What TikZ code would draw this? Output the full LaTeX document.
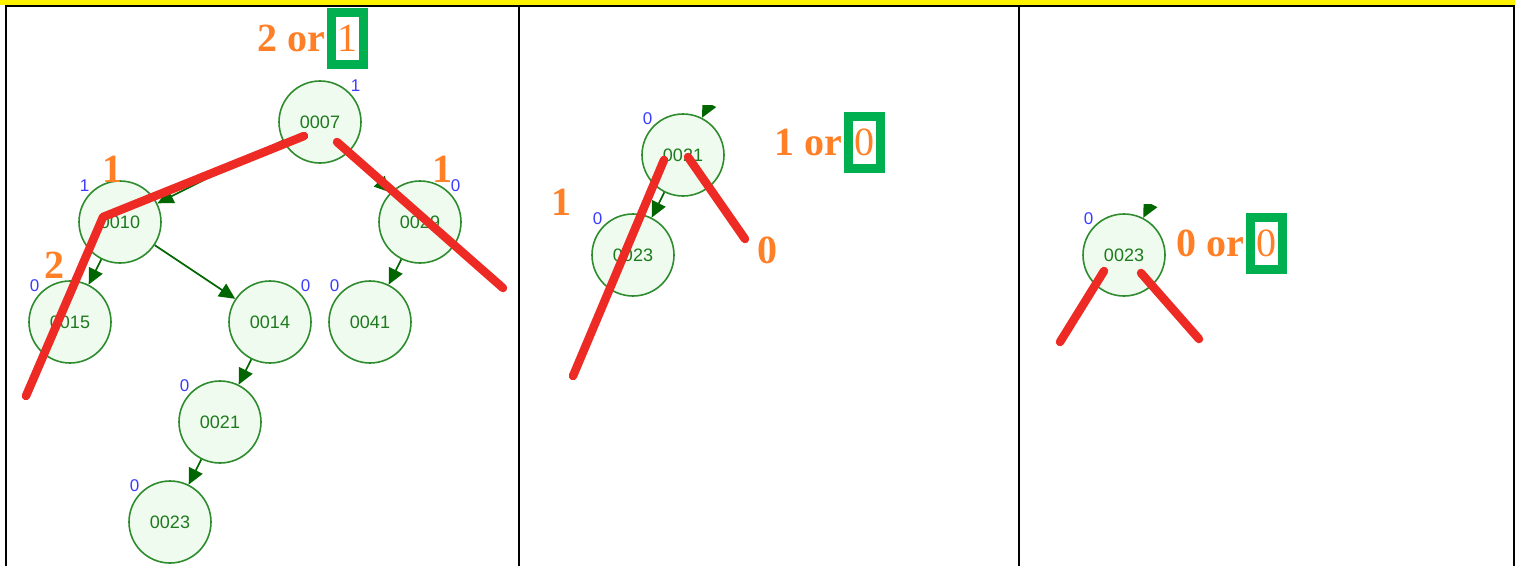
\documentclass[tikz,border=0pt]{standalone}
\usepackage{fontspec}
\setmainfont{Liberation Serif}
\newfontfamily\nodefont{Liberation Sans}
\usepackage{tikz}
\usetikzlibrary{arrows.meta}
\definecolor{nodefill}{HTML}{EEFBEE}
\definecolor{nodeline}{HTML}{2E8B2E}
\definecolor{nodetext}{HTML}{1E7A1E}
\definecolor{arrowgreen}{HTML}{006600}
\definecolor{cutred}{HTML}{EE2A24}
\definecolor{scoreorange}{HTML}{FF7F27}
\definecolor{pickgreen}{HTML}{00B050}
\definecolor{balblue}{HTML}{3C3CFF}

\begin{document}
\begin{tikzpicture}[x=1pt, y=-1pt,
    treenode/.style={circle, draw=nodeline, fill=nodefill, line width=1.6pt,
        minimum size=82pt, inner sep=0pt, text=nodetext,
        font=\nodefont\fontsize{18}{18}\selectfont, label distance=8pt},
    edge/.style={draw=arrowgreen, line width=1.7pt, -{Triangle[length=16pt,width=15pt]}},
    cut/.style={draw=cutred, line width=8.5pt, line cap=round, line join=round},
    score/.style={text=scoreorange, font=\bfseries\fontsize{40}{40}\selectfont,
        inner sep=0pt, anchor=base},
    pick/.style={draw=pickgreen, line width=9pt, fill=white, minimum width=32pt,
        minimum height=52pt, inner sep=0pt, text=scoreorange,
        font=\fontsize{40}{40}\selectfont},
    bal/.style={text=balblue, font=\nodefont\fontsize{17}{17}\selectfont, inner sep=1pt}]
    \useasboundingbox (0,0) rectangle (1520,566);

    % Frame of the three panels
    \fill[yellow] (0,0) rectangle (1515,5);
    \draw[line width=2pt] (5,6) -- (1515,6);
    \foreach \x in {6,519,1019,1514} {
        \draw[line width=2pt] (\x,6) -- (\x,566);
    }

    % Panel 1: whole tree
    \node[treenode, label={[bal]45:1}] (n07) at (320,122) {0007};
    \node[treenode, label={[bal]135:1}] (n10) at (120,222) {0010};
    \node[treenode, label={[bal]45:0}] (n29) at (420,222) {0029};
    \node[treenode, label={[bal]135:0}] (n15) at (70,322) {0015};
    \node[treenode, label={[bal]45:0}] (n14) at (270,322) {0014};
    \node[treenode, label={[bal]135:0}] (n41) at (370,322) {0041};
    \node[treenode, label={[bal]135:0}] (n21) at (220,422) {0021};
    \node[treenode, label={[bal]135:0}] (n23) at (170,522) {0023};

    \draw[edge] (n07) -- (n10);
    \draw[edge] (n07) -- (n29);
    \draw[edge] (n10) -- (n15);
    \draw[edge] (n10) -- (n14);
    \draw[edge] (n29) -- (n41);
    \draw[edge] (n14) -- (n21);
    \draw[edge] (n21) -- (n23);

    \coordinate (c1a) at (304,136);
    \coordinate (c1b) at (103,217);
    \coordinate (c1c) at (26,396);
    \coordinate (c1d) at (337,142);
    \coordinate (c1e) at (503,288);
    \draw[cut] (c1a) -- (c1b) -- (c1c);
    \draw[cut] (c1d) -- (c1e);

    \node[pick] (pk1) at (347,38) {1};
    \node[score, anchor=base east] (or1) at ([xshift=-1pt]pk1.base west) {2 or};
    \node[score] (s10) at (112,182) {1};
    \node[score] (s29) at (442,182) {1};
    \node[score] (s15) at (54,278) {2};

    % Panel 2: subtree of 0021
    \node[treenode, label={[bal]135:0}] (m21) at (683,155) {0021};
    \node[treenode, label={[bal]135:0}] (m23) at (633,255) {0023};
    \coordinate (p21) at (727,69);
    \begin{scope}
        \clip (640,105) rectangle (760,200);
        \draw[edge] (p21) -- (m21);
    \end{scope}
    \draw[edge] (m21) -- (m23);

    \coordinate (c2a) at (664,160);
    \coordinate (c2b) at (573,376);
    \coordinate (c2c) at (688,157);
    \coordinate (c2d) at (745,239);
    \draw[cut] (c2a) -- (c2b);
    \draw[cut] (c2c) -- (c2d);

    \node[pick] (pk2) at (864,142) {0};
    \node[score, anchor=base east] (or2) at ([xshift=-1pt]pk2.base west) {1 or};
    \node[score] (s21) at (561,215) {1};
    \node[score] (s22) at (767,263) {0};

    % Panel 3: leaf 0023
    \node[treenode, label={[bal]135:0}] (k23) at (1124,255) {0023};
    \coordinate (p23) at (1169,168);
    \begin{scope}
        \clip (1080,204) rectangle (1200,300);
        \draw[edge] (p23) -- (k23);
    \end{scope}

    \coordinate (c3a) at (1104,271);
    \coordinate (c3b) at (1060,342);
    \coordinate (c3c) at (1141,273);
    \coordinate (c3d) at (1199,339);
    \draw[cut] (c3a) -- (c3b);
    \draw[cut] (c3c) -- (c3d);

    \node[pick] (pk3) at (1266,243) {0};
    \node[score, anchor=base east] (or3) at ([xshift=-1pt]pk3.base west) {0 or};
\end{tikzpicture}
\end{document}
